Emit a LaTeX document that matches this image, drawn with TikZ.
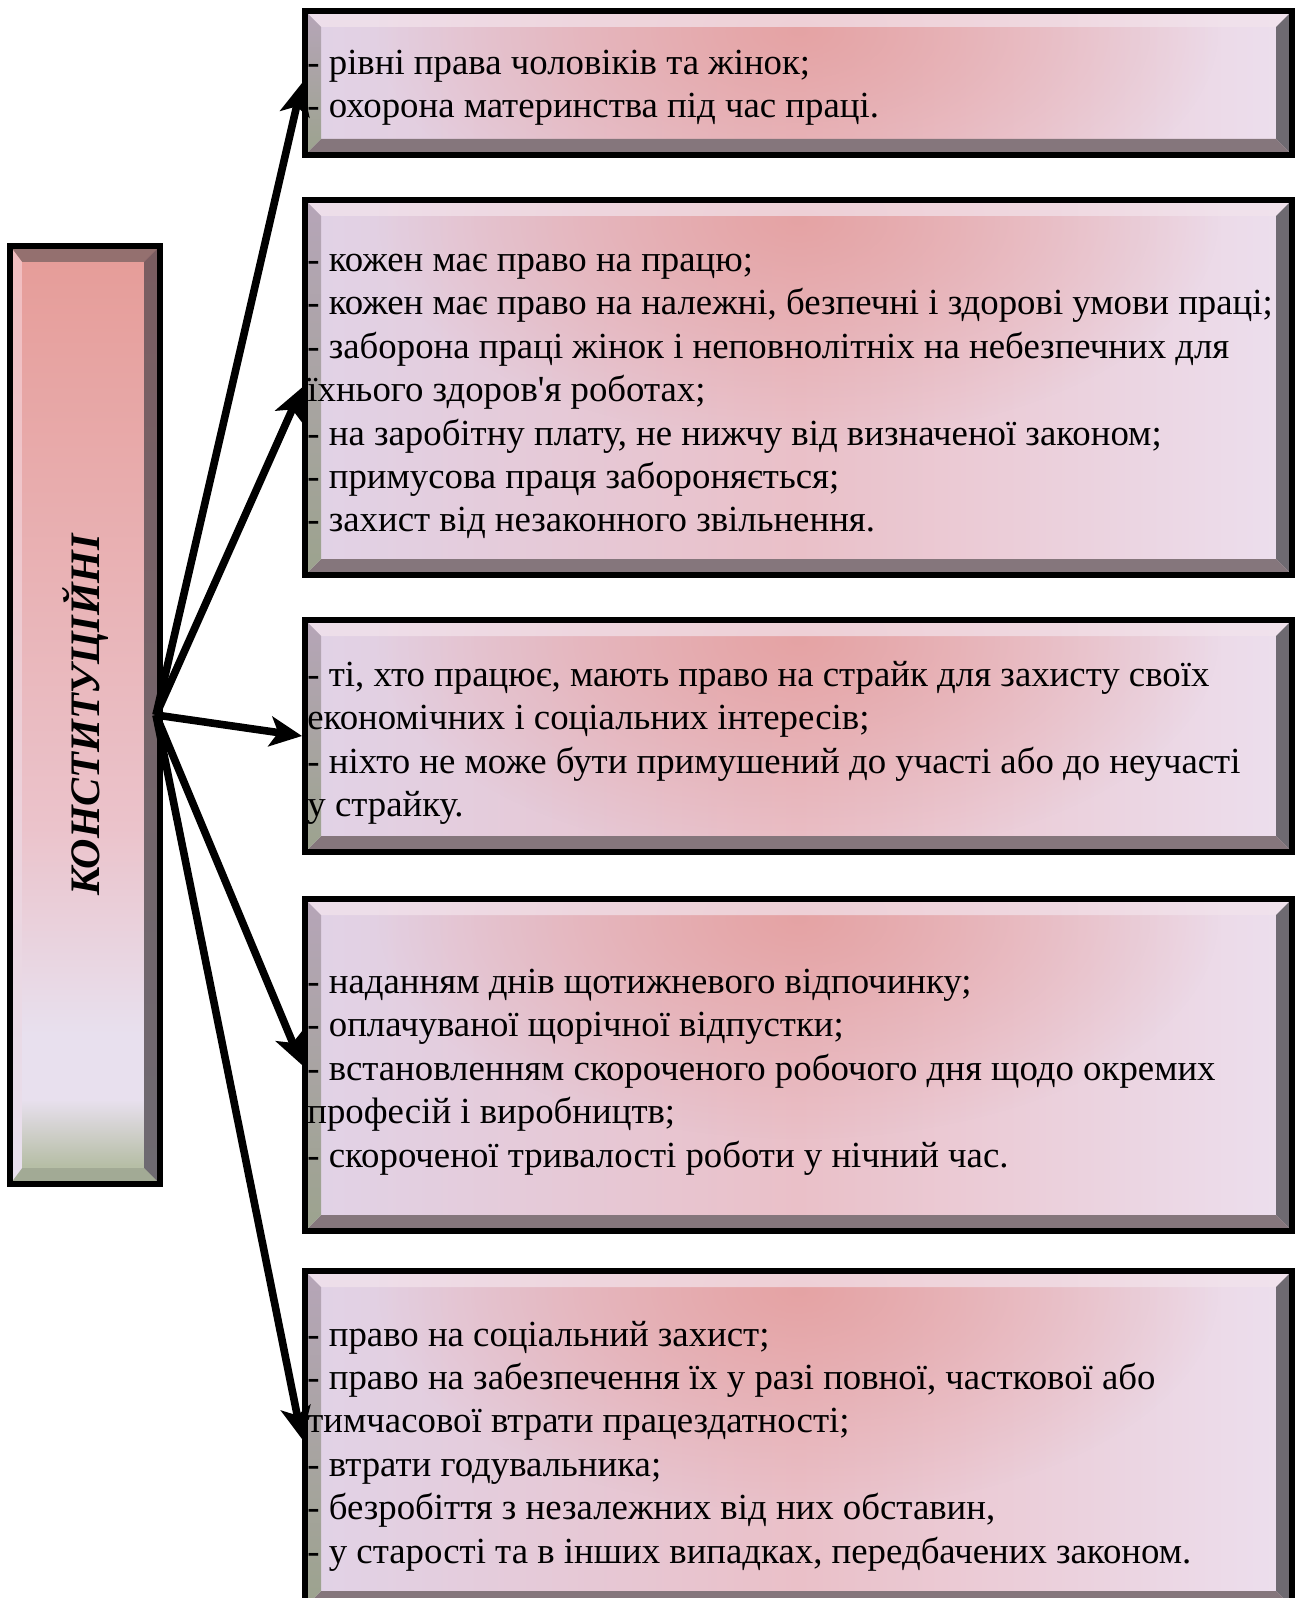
\documentclass[tikz,border=0pt]{standalone}
\usepackage{fontspec}
\setmainfont{Liberation Serif}
\usetikzlibrary{arrows.meta,positioning,calc,fadings}

\definecolor{lav}{HTML}{E1D3E7}
\definecolor{lavr}{HTML}{ECDFEE}
\definecolor{rose}{HTML}{EAC0C8}
\definecolor{glowc}{HTML}{E49E9E}
\definecolor{bevtop}{HTML}{F3E4EC}
\definecolor{bevright}{HTML}{6E6A71}
\definecolor{bevbot}{HTML}{85767C}
\definecolor{bevleft}{HTML}{B6A5B8}
\definecolor{bevgreen}{HTML}{9CA38E}
\definecolor{klsalmon}{HTML}{E69C98}
\definecolor{klpink}{HTML}{EBC3CB}
\definecolor{kllav}{HTML}{E8E0EE}
\definecolor{klgreen}{HTML}{B6BEA6}
\definecolor{kltop}{HTML}{94706F}
\definecolor{klright}{HTML}{7A5D61}
\definecolor{klleft}{HTML}{F1BDBF}
\definecolor{klbot}{HTML}{A2AA95}

\tikzfading[name=glowfade, inner color=transparent!0, outer color=transparent!100]
\pgfdeclareverticalshading{klfill}{100bp}{color(0bp)=(klgreen); color(25bp)=(klgreen);
  color(26bp)=(klgreen); color(29.5bp)=(kllav); color(33bp)=(kllav); color(44bp)=(klpink);
  color(75bp)=(klsalmon); color(100bp)=(klsalmon)}

\begin{document}
\begin{tikzpicture}[
    x=0.5pt, y=-0.5pt,
    panel/.style={draw=black, line width=3pt, inner sep=0pt, minimum width=493.5pt,
      left color=lav, right color=lavr, middle color=rose,
      path picture={
        \path (path picture bounding box.north west) coordinate (pnw)
              (path picture bounding box.south east) coordinate (pse);
        \fill[glowc, opacity=0.85, path fading=glowfade] ($(pnw)!0.5!(pnw-|pse)+(0,-10pt)$) ellipse [x radius=210pt, y radius=110pt];
        \fill[bevtop, opacity=0.7] (pnw) -- (pnw-|pse) -- ($(pnw-|pse)+(-8pt,-8pt)$) -- ($(pnw)+(8pt,-8pt)$) -- cycle;
        \fill[bevright] (pnw-|pse) -- (pse) -- ($(pse)+(-8pt,8pt)$) -- ($(pnw-|pse)+(-8pt,-8pt)$) -- cycle;
        \fill[bevbot] (pse) -- (pse-|pnw) -- ($(pse-|pnw)+(8pt,8pt)$) -- ($(pse)+(-8pt,8pt)$) -- cycle;
        \shade[top color=bevleft, bottom color=bevgreen] (pse-|pnw) -- (pnw) -- ($(pnw)+(8pt,-8pt)$) -- ($(pse-|pnw)+(8pt,8pt)$) -- cycle;
      }},
    klpanel/.style={draw=black, line width=3pt, inner sep=0pt, shading=klfill,
      path picture={
        \path (path picture bounding box.north west) coordinate (pnw)
              (path picture bounding box.south east) coordinate (pse);
        \fill[kltop] (pnw) -- (pnw-|pse) -- ($(pnw-|pse)+(-8pt,-8pt)$) -- ($(pnw)+(6pt,-8pt)$) -- cycle;
        \shade[top color=klright, bottom color=bevright] (pnw-|pse) -- (pse) -- ($(pse)+(-8pt,8pt)$) -- ($(pnw-|pse)+(-8pt,-8pt)$) -- cycle;
        \fill[klbot] (pse) -- (pse-|pnw) -- ($(pse-|pnw)+(6pt,8pt)$) -- ($(pse)+(-8pt,8pt)$) -- cycle;
        \shade[top color=klleft, bottom color=kllav] (pse-|pnw) -- (pnw) -- ($(pnw)+(6pt,-8pt)$) -- ($(pse-|pnw)+(6pt,8pt)$) -- cycle;
      }},
    body/.style={anchor=west, align=left, inner sep=0pt, font=\fontsize{18.4}{21.7}\selectfont},
    wire/.style={line width=3.8pt, -{Stealth[length=16pt, width=15pt, inset=4pt]}}
  ]
  \useasboundingbox (0,0) rectangle (1296,1598);

  \node[klpanel, minimum width=75pt, minimum height=469pt] (kl) at (85,715) {};
  \node[rotate=90, font=\bfseries\itshape\fontsize{21}{25}\selectfont] (kt) at (kl.center) {КОНСТИТУЦІЙНІ};

  \node[panel, minimum height=72pt] (b1) at (798.5,83) {};
  \node[panel, minimum height=187.5pt] (b2) at (798.5,387.5) {};
  \node[panel, minimum height=116pt] (b3) at (798.5,736) {};
  \node[panel, minimum height=166pt] (b4) at (798.5,1065) {};
  \node[panel, minimum height=168pt] (b5) at (798.5,1439) {};

  \node[body] (t1) at ([xshift=2.5pt, yshift=-2.5pt]b1.west)
    {- рівні права чоловіків та жінок;\\- охорона материнства під час праці.};
  \node[body] (t2) at ([xshift=2.5pt, yshift=-4.5pt]b2.west)
    {- кожен має право на працю;\\
     - кожен має право на належні, безпечні і здорові умови праці;\\
     - заборона праці жінок і неповнолітніх на небезпечних для\\
     їхнього здоров\textquotesingle я роботах;\\
     - на заробітну плату, не нижчу від визначеної законом;\\
     - примусова праця забороняється;\\
     - захист від незаконного звільнення.};
  \node[body] (t3) at ([xshift=2.5pt, yshift=-3.5pt]b3.west)
    {- ті, хто працює, мають право на страйк для захисту своїх\\
     економічних і соціальних інтересів;\\
     - ніхто не може бути примушений до участі або до неучасті\\
     у страйку.};
  \node[body] (t4) at ([xshift=2.5pt, yshift=-3.5pt]b4.west)
    {- наданням днів щотижневого відпочинку;\\
     - оплачуваної щорічної відпустки;\\
     - встановленням скороченого робочого дня щодо окремих\\
     професій і виробництв;\\
     - скороченої тривалості роботи у нічний час.};
  \node[body] (t5) at ([xshift=2.5pt, yshift=-3.5pt]b5.west)
    {- право на соціальний захист;\\
     - право на забезпечення їх у разі повної, часткової або\\
     тимчасової втрати працездатності;\\
     - втрати годувальника;\\
     - безробіття з незалежних від них обставин,\\
     - у старості та в інших випадках, передбачених законом.};

  \coordinate (hub) at ([xshift=-3.5pt]kl.east);
  \foreach \b in {b1,b2,b3,b4,b5}
    \draw[wire] (hub) -- (\b.west);
\end{tikzpicture}
\end{document}
